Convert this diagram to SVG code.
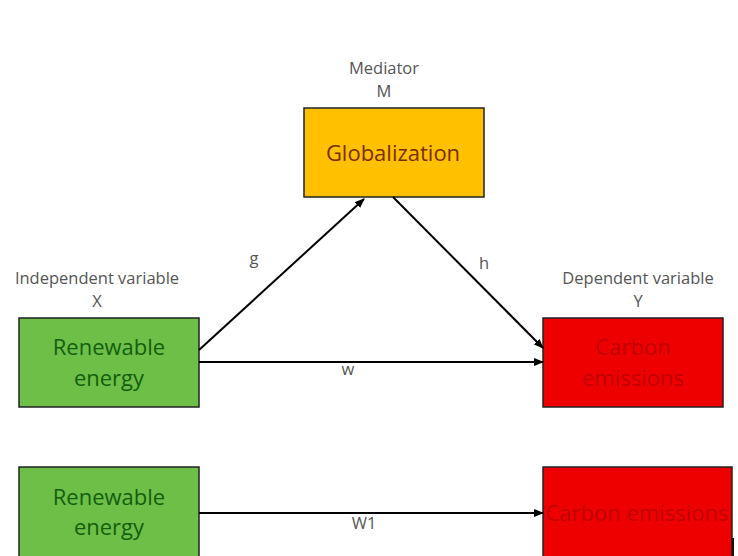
<svg xmlns="http://www.w3.org/2000/svg" width="738" height="556" viewBox="0 0 738 556">
<defs>
<marker id="ah" markerWidth="10" markerHeight="8" refX="9" refY="4" orient="auto" markerUnits="userSpaceOnUse">
<path d="M0,0 L10,4 L0,8 Z" fill="#000"/>
</marker>
<style>
.lbl{font-family:"Open Sans","Liberation Sans",sans-serif;font-size:16.5px;fill:#555;text-anchor:middle}
.nt{font-family:"Open Sans","Liberation Sans",sans-serif;font-size:22px;text-anchor:middle}
.box{stroke:#222;stroke-width:1.5}
.edge{stroke:#000;stroke-width:2;fill:none;marker-end:url(#ah)}
</style>
</defs>
<rect width="738" height="556" fill="#fff"/>
<g id="mediator">
<text class="lbl" x="384" y="74">Mediator</text>
<text class="lbl" x="384" y="97">M</text>
<rect class="box" x="304" y="108" width="180" height="89" fill="#FFC000"/>
<text class="nt" x="393" y="161" fill="#7a2e00">Globalization</text>
</g>
<g id="x">
<text class="lbl" x="97" y="284">Independent variable</text>
<text class="lbl" x="97" y="307">X</text>
<rect class="box" x="19" y="318" width="180" height="89" fill="#6DBF48"/>
<text class="nt" x="109" y="355" fill="#155d0c">Renewable</text>
<text class="nt" x="109" y="386" fill="#155d0c">energy</text>
</g>
<g id="y">
<text class="lbl" x="638" y="284">Dependent variable</text>
<text class="lbl" x="638" y="307">Y</text>
<rect class="box" x="543" y="318" width="180" height="89" fill="#EE0000"/>
<text class="nt" x="633" y="355" fill="#c00000">Carbon</text>
<text class="nt" x="633" y="386" fill="#c00000">emissions</text>
</g>
<g id="x2">
<rect class="box" x="19" y="467" width="180" height="95" fill="#6DBF48"/>
<text class="nt" x="109" y="505" fill="#155d0c">Renewable</text>
<text class="nt" x="109" y="535" fill="#155d0c">energy</text>
</g>
<g id="y2">
<rect class="box" x="543" y="467" width="189" height="95" fill="#EE0000"/>
<text class="nt" x="637" y="521" fill="#c00000">Carbon emissions</text>
<line x1="733" y1="538" x2="733" y2="556" stroke="#111" stroke-width="2"/>
</g>
<g id="connectors">
<line class="edge" x1="199" y1="350" x2="364" y2="199"/>
<line class="edge" x1="393" y1="197" x2="543" y2="348"/>
<line class="edge" x1="199" y1="362" x2="543" y2="362"/>
<line class="edge" x1="199" y1="513" x2="543" y2="513"/>
<text class="lbl" x="254" y="264">g</text>
<text class="lbl" x="484" y="269">h</text>
<text class="lbl" x="348" y="375">w</text>
<text class="lbl" x="364" y="529">W1</text>
</g>
</svg>
